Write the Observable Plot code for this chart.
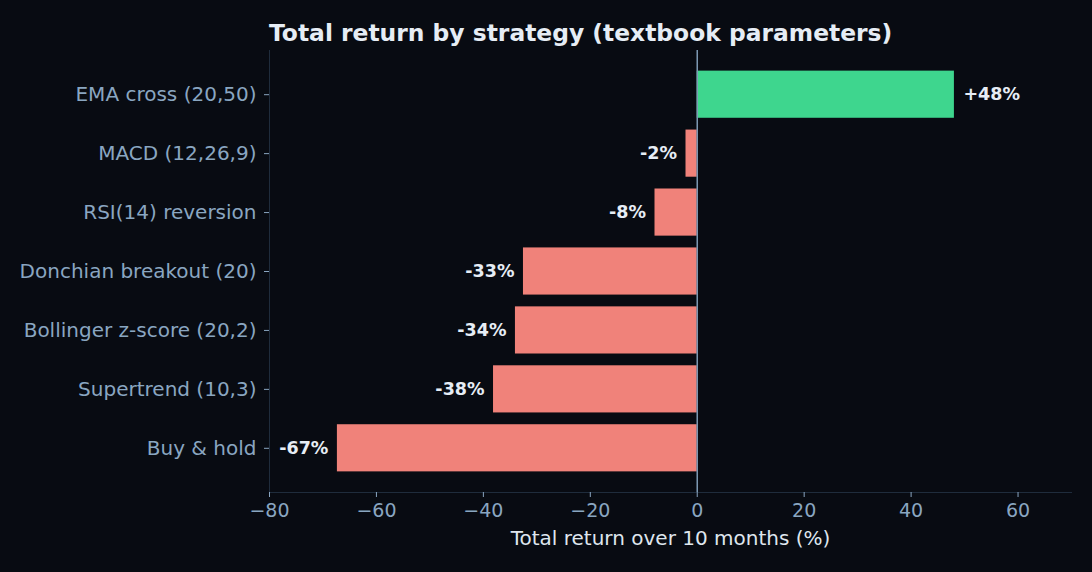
<!DOCTYPE html>
<html>
<head>
<meta charset="utf-8">
<script src="https://cdn.jsdelivr.net/npm/d3@7"></script>
<script src="https://cdn.jsdelivr.net/npm/@observablehq/plot@0.6"></script>
<style>
  html, body { margin: 0; padding: 0; background: #080b12; }
  #wrap { position: relative; width: 1092px; height: 572px; overflow: hidden; }
  #title { position: absolute; left: 269px; top: 19px; font-family: "DejaVu Sans", sans-serif; font-weight: bold; font-size: 23.4px; color: #e6edf5; white-space: nowrap; }
  svg { display: block; }
</style>
</head>
<body>
<div id="wrap">
  <div id="chart"></div>
  <div id="title">Total return by strategy (textbook parameters)</div>
</div>
<script>
const strategies = ["EMA cross (20,50)", "MACD (12,26,9)", "RSI(14) reversion", "Donchian breakout (20)", "Bollinger z-score (20,2)", "Supertrend (10,3)", "Buy & hold"];
const returns = [48.1, -2.1, -7.9, -32.5, -34.0, -38.1, -67.3];
const labels = ["+48%", "-2%", "-8%", "-33%", "-34%", "-38%", "-67%"];
const xTicks = [-80, -60, -40, -20, 0, 20, 40, 60];
const xLabel = "Total return over 10 months (%)";

const data = strategies.map((s, i) => ({name: s, value: returns[i], label: labels[i]}));

const plot = Plot.plot({
  width: 1092,
  height: 572,
  marginLeft: 269,
  marginRight: 21,
  marginTop: 50,
  marginBottom: 80,
  style: {background: "#080b12", fontFamily: "DejaVu Sans, sans-serif", fontSize: "15px"},
  x: {domain: [-80, 70]},
  y: {domain: strategies, paddingInner: 0.2, paddingOuter: 0.35, round: false},
  marks: [
    Plot.barX(data, {x: "value", y: "name", fill: d => d.value > 0 ? "#3ed68e" : "#f0827a"}),
    Plot.ruleX([0], {stroke: "#7f9bb5", strokeWidth: 1.5}),
    Plot.ruleX([-80], {stroke: "#1f2c3c", strokeWidth: 1}),
    Plot.frame({anchor: "bottom", stroke: "#1f2c3c", strokeWidth: 1}),
    Plot.axisY({tickSize: 5, tickPadding: 8, color: "#8aa6c1", label: null, fontSize: 20}),
    Plot.axisX({ticks: xTicks, tickSize: 5, tickPadding: 6, color: "#8aa6c1", label: null, fontSize: 19}),
    Plot.text([xLabel], {frameAnchor: "bottom", dy: 52, fill: "#dfe6ee", fontSize: 20}),
    Plot.text(data.filter(d => d.value > 0), {x: "value", y: "name", text: "label", textAnchor: "start", dx: 9, fill: "#e6edf5", fontWeight: "bold", fontSize: 17.5}),
    Plot.text(data.filter(d => d.value <= 0), {x: "value", y: "name", text: "label", textAnchor: "end", dx: -9, fill: "#e6edf5", fontWeight: "bold", fontSize: 17.5})
  ]
});
document.getElementById("chart").appendChild(plot);
</script>
</body>
</html>
